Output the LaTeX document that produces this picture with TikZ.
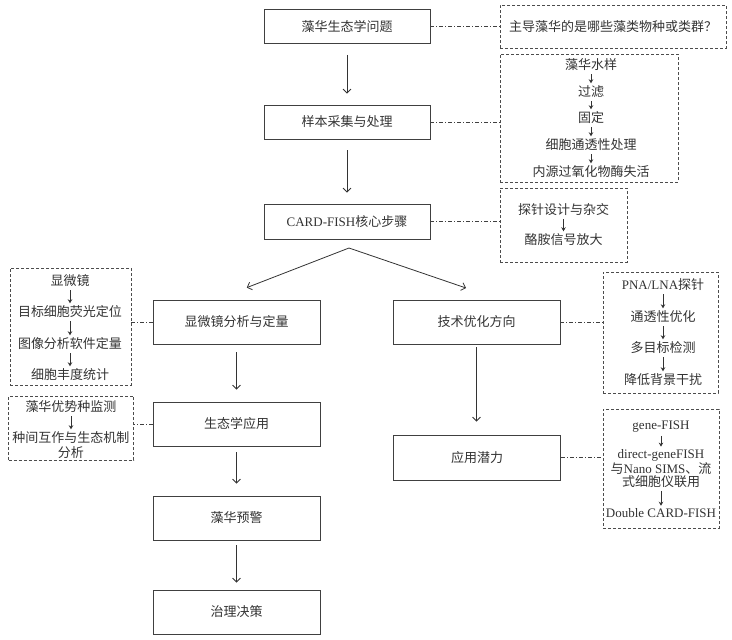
\documentclass[tikz,border=0pt]{standalone}
\usepackage{fontspec}
\setmainfont{Liberation Serif}
\newfontfamily\cjk{Noto Sans CJK SC}
\usetikzlibrary{arrows.meta}
\newcommand{\eng}[1]{{\rmfamily #1}}
\begin{document}
\begin{tikzpicture}[x=1pt,y=-1pt]
	\tikzstyle{main} = [draw=black!75, line width=0.8, minimum width=167, minimum height=44, inner sep=0, text=black!80, font=\cjk\fontsize{13}{15}\selectfont]
	\tikzstyle{note} = [draw=black!70, dash pattern=on 3pt off 2pt, line width=0.7, inner sep=0]
	\tikzstyle{item} = [inner sep=1, text=black!80, align=center, font=\cjk\fontsize{13}{14.5}\selectfont]
	\tikzstyle{arrow} = [-{Straight Barb[length=4pt,width=8pt]}, line width=0.8, draw=black!80, shorten <=11, shorten >=11]
	\tikzstyle{small} = [-{Stealth[length=4pt,width=4.5pt]}, line width=1, draw=black!80, shorten <=2, shorten >=1.5]
	\tikzstyle{link} = [dash pattern=on 4pt off 2pt on 1pt off 2pt, line width=0.6, draw=black!75]
\useasboundingbox (0,0) rectangle (732,640);
% main column
\node [main, minimum width=166, minimum height=34] (m1) at (347,26.5) {藻华生态学问题};
\node [main, minimum width=166, minimum height=34] (m2) at (347,122) {样本采集与处理};
\node [main, minimum width=166, minimum height=35] (m3) at (347,221.5) {\eng{CARD-FISH}核心步骤};
\node [main] (m4) at (236.5,322) {显微镜分析与定量};
\node [main] (m5) at (476.5,322) {技术优化方向};
\node [main] (m6) at (236.5,424) {生态学应用};
\node [main, minimum height=45] (m7) at (477,457.5) {应用潜力};
\node [main] (m8) at (236.5,518) {藻华预警};
\node [main] (m9) at (236.5,612) {治理决策};
\coordinate (split) at (349,248);
% dashed boxes
\node [note, minimum width=226, minimum height=43] (d1) at (613,26.5) {};
\node [note, minimum width=178, minimum height=128] (d2) at (589,118) {};
\node [note, minimum width=127, minimum height=74] (d3) at (563.5,225) {};
\node [note, minimum width=121, minimum height=117] (d4) at (70.5,326.5) {};
\node [note, minimum width=125, minimum height=64] (d5) at (71,428) {};
\node [note, minimum width=115, minimum height=121] (d6) at (660.5,332.5) {};
\node [note, minimum width=116, minimum height=119] (d7) at (661,468.5) {};
% texts in boxes
\node [item] (q1) at (613,27) {主导藻华的是哪些藻类物种或类群？};
\node [item] (a1) at (591,65) {藻华水样};
\node [item] (a2) at (591,92) {过滤};
\node [item] (a3) at (591,118) {固定};
\node [item] (a4) at (591,145) {细胞通透性处理};
\node [item] (a5) at (591,172) {内源过氧化物酶失活};
\node [item] (b1) at (563.5,210) {探针设计与杂交};
\node [item] (b2) at (563.5,240) {酪胺信号放大};
\node [item] (c1) at (70,281) {显微镜};
\node [item] (c2) at (70,312) {目标细胞荧光定位};
\node [item] (c3) at (70,344) {图像分析软件定量};
\node [item] (c4) at (70,375) {细胞丰度统计};
\node [item] (e1) at (71,407) {藻华优势种监测};
\node [item, font=\cjk\fontsize{13}{15}\selectfont] (e2) at (71,445.5) {种间互作与生态机制\\分析};
\node [item] (f1) at (663,285) {\eng{PNA/LNA}探针};
\node [item] (f2) at (663,317) {通透性优化};
\node [item] (f3) at (663,348) {多目标检测};
\node [item] (f4) at (663,380) {降低背景干扰};
\node [item] (g1) at (661,427) {\eng{gene-FISH}};
\node [item, font=\cjk\fontsize{13}{13.5}\selectfont] (g2) at (661,468.5) {\eng{direct-geneFISH}\\与\eng{Nano SIMS}、流\\式细胞仪联用};
\node [item] (g3) at (661,513) {\eng{Double CARD-FISH}};
% arrows
\draw [arrow] (m1) -- (m2);
\draw [arrow] (m2) -- (m3);
\draw [arrow, shorten <=0] (split) -- ([yshift=8]m4.north);
\draw [arrow, shorten <=0] (split) -- ([yshift=8]m5.north);
\draw [arrow, shorten <=8, shorten >=12] (m4) -- (m6);
\draw [arrow, shorten <=6, shorten >=12] (m6) -- (m8);
\draw [arrow, shorten <=5, shorten >=7] (m8) -- (m9);
\draw [arrow, shorten <=3, shorten >=13] (m5) -- (m5 |- m7.north);
\draw [small] (a1) -- (a2);
\draw [small] (a2) -- (a3);
\draw [small] (a3) -- (a4);
\draw [small] (a4) -- (a5);
\draw [small] (b1) -- (b2);
\draw [small] (c1) -- (c2);
\draw [small] (c2) -- (c3);
\draw [small] (c3) -- (c4);
\draw [small] (e1) -- (e2);
\draw [small] (f1) -- (f2);
\draw [small] (f2) -- (f3);
\draw [small] (f3) -- (f4);
\draw [small] (g1) -- (g2);
\draw [small] (g2) -- (g3);
% dash-dot links
\draw [link] (m1) -- (d1);
\draw [link] (m2.east) -- (m2.east -| d2.west);
\draw [link] (m3.east) -- (m3.east -| d3.west);
\draw [link] (m4.west) -- (m4.west -| d4.east);
\draw [link] (m6.west) -- (m6.west -| d5.east);
\draw [link] (m5.east) -- (m5.east -| d6.west);
\draw [link] (m7.east) -- (m7.east -| d7.west);
\end{tikzpicture}
\end{document}
